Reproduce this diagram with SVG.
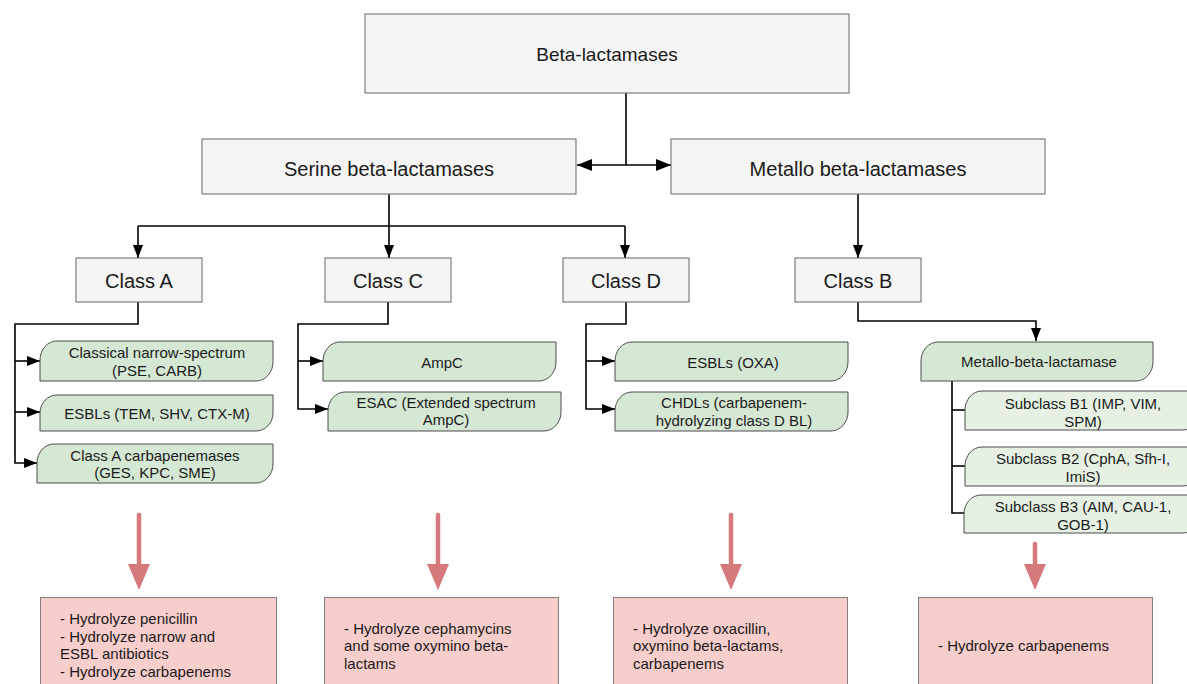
<svg xmlns="http://www.w3.org/2000/svg" width="1187" height="684" viewBox="0 0 1187 684">
<style>
  text { font-family: "Liberation Sans", Arial, Helvetica, sans-serif; fill: #1a1a1a; }
  .main { fill: #f5f5f5; stroke: #666666; stroke-width: 1; }
  .green { fill: #d5e8d4; stroke: #4d4d4d; stroke-width: 1; }
  .lgreen { fill: #e6f1e4; stroke: #4d4d4d; stroke-width: 1; }
  .pink { fill: #f8cecc; stroke: #808080; stroke-width: 1; }
  .big { font-size: 20px; text-anchor: middle; }
  .mid { font-size: 15px; text-anchor: middle; }
  .lft { font-size: 15px; text-anchor: start; }
  .conn { fill: none; stroke: #000000; stroke-width: 1.6; }
  .parr { fill: #d5797d; stroke: none; }
</style>
<defs>
  <marker id="arr" markerWidth="13" markerHeight="10" refX="13" refY="5" orient="auto" markerUnits="userSpaceOnUse">
    <path d="M0,0 L13,5 L0,10 z" fill="#000000"/>
  </marker>
  <marker id="arrB" markerWidth="15" markerHeight="12" refX="15" refY="6" orient="auto" markerUnits="userSpaceOnUse">
    <path d="M0,0 L15,6 L0,12 z" fill="#000000"/>
  </marker>
</defs>
<rect width="1187" height="684" fill="#ffffff"/>

<g id="connectors">
  <path class="conn" d="M626,93 V165"/>
  <path class="conn" d="M626,165 H577" marker-end="url(#arrB)"/>
  <path class="conn" d="M626,165 H671" marker-end="url(#arrB)"/>
  <path class="conn" d="M389,194 V226"/>
  <path class="conn" d="M138,226 H625"/>
  <path class="conn" d="M138,226 V258" marker-end="url(#arr)"/>
  <path class="conn" d="M389,226 V258" marker-end="url(#arr)"/>
  <path class="conn" d="M625,226 V258" marker-end="url(#arr)"/>
  <path class="conn" d="M858,194 V258" marker-end="url(#arr)"/>
  <path class="conn" d="M138,302 V324 H15 V463 H37" marker-end="url(#arr)"/>
  <path class="conn" d="M15,361 H40" marker-end="url(#arr)"/>
  <path class="conn" d="M15,412 H40" marker-end="url(#arr)"/>
  <path class="conn" d="M388,302 V324 H298 V409 H328" marker-end="url(#arr)"/>
  <path class="conn" d="M298,361 H323" marker-end="url(#arr)"/>
  <path class="conn" d="M626,302 V324 H586 V409 H615" marker-end="url(#arr)"/>
  <path class="conn" d="M586,361 H615" marker-end="url(#arr)"/>
  <path class="conn" d="M858,302 V321 H1036 V341" marker-end="url(#arr)"/>
  <path class="conn" d="M952,381 V513 H965"/>
  <path class="conn" d="M952,410 H966"/>
  <path class="conn" d="M952,466 H966"/>
  <path class="parr" d="M136.75,514 Q139,511 141.25,514 V564 H150 L139,590 L128,564 H136.75 Z"/>
  <path class="parr" d="M435.75,514 Q438,511 440.25,514 V564 H449 L438,590 L427,564 H435.75 Z"/>
  <path class="parr" d="M728.75,514 Q731,511 733.25,514 V564 H742 L731,590 L720,564 H728.75 Z"/>
  <path class="parr" d="M1032.75,543 Q1035,540 1037.25,543 V564 H1046 L1035,590 L1024,564 H1032.75 Z"/>
</g>

<g id="beta-lactamases">
  <rect class="main" x="365" y="14" width="484" height="79"/>
  <text class="big" x="607" y="61" style="font-size:19px">Beta-lactamases</text>
</g>
<g id="serine">
  <rect class="main" x="202" y="139" width="374" height="55"/>
  <text class="big" x="389" y="176">Serine beta-lactamases</text>
</g>
<g id="metallo">
  <rect class="main" x="671" y="139" width="374" height="55"/>
  <text class="big" x="858" y="176">Metallo beta-lactamases</text>
</g>
<g id="classA">
  <rect class="main" x="76" y="258" width="126" height="44"/>
  <text class="big" x="139" y="288">Class A</text>
</g>
<g id="classC">
  <rect class="main" x="325" y="258" width="126" height="44"/>
  <text class="big" x="388" y="288">Class C</text>
</g>
<g id="classD">
  <rect class="main" x="563" y="258" width="126" height="44"/>
  <text class="big" x="626" y="288">Class D</text>
</g>
<g id="classB">
  <rect class="main" x="795" y="258" width="126" height="44"/>
  <text class="big" x="858" y="288">Class B</text>
</g>

<g id="classical">
  <path class="green" d="M40,360 A17,19 0 0 1 57,341 H273 V362 A17,19 0 0 1 256,381 H40 Z"/>
  <text class="mid" x="157" y="358">Classical narrow-spectrum</text>
  <text class="mid" x="157" y="376">(PSE, CARB)</text>
</g>
<g id="esbls-a">
  <path class="green" d="M40,413 A17,18 0 0 1 57,395 H273 V413 A17,18 0 0 1 256,431 H40 Z"/>
  <text class="mid" x="157" y="419">ESBLs (TEM, SHV, CTX-M)</text>
</g>
<g id="carbapenemases-a">
  <path class="green" d="M37,463 A17,19 0 0 1 54,444 H273 V464 A17,19 0 0 1 256,483 H37 Z"/>
  <text class="mid" x="155" y="461">Class A carbapenemases</text>
  <text class="mid" x="155" y="478">(GES, KPC, SME)</text>
</g>
<g id="ampc">
  <path class="green" d="M323,361 A17,19 0 0 1 340,342 H556 V362 A17,19 0 0 1 539,381 H323 Z"/>
  <text class="mid" x="442" y="368">AmpC</text>
</g>
<g id="esac">
  <path class="green" d="M328,411 A17,19 0 0 1 345,392 H561 V412 A17,19 0 0 1 544,431 H328 Z"/>
  <text class="mid" x="446" y="408">ESAC (Extended spectrum</text>
  <text class="mid" x="446" y="425">AmpC)</text>
</g>
<g id="esbls-oxa">
  <path class="green" d="M615,361 A17,19 0 0 1 632,342 H848 V362 A17,19 0 0 1 831,381 H615 Z"/>
  <text class="mid" x="733" y="368">ESBLs (OXA)</text>
</g>
<g id="chdls">
  <path class="green" d="M615,411 A17,19 0 0 1 632,392 H848 V412 A17,19 0 0 1 831,431 H615 Z"/>
  <text class="mid" x="734" y="408">CHDLs (carbapenem-</text>
  <text class="mid" x="734" y="426">hydrolyzing class D BL)</text>
</g>
<g id="mbl">
  <path class="green" d="M921,361 A17,19 0 0 1 938,342 H1153 V362 A17,19 0 0 1 1136,381 H921 Z"/>
  <text class="mid" x="1039" y="367">Metallo-beta-lactamase</text>
</g>
<g id="b1">
  <path class="lgreen" d="M965,410 A17,19 0 0 1 982,391 H1200 V411 A17,19 0 0 1 1183,430 H965 Z"/>
  <text class="mid" x="1083" y="409">Subclass B1 (IMP, VIM,</text>
  <text class="mid" x="1083" y="427">SPM)</text>
</g>
<g id="b2">
  <path class="lgreen" d="M965,466 A17,19 0 0 1 982,447 H1200 V467 A17,19 0 0 1 1183,486 H965 Z"/>
  <text class="mid" x="1083" y="464">Subclass B2 (CphA, Sfh-I,</text>
  <text class="mid" x="1083" y="482">ImiS)</text>
</g>
<g id="b3">
  <path class="lgreen" d="M964,514 A17,19 0 0 1 981,495 H1200 V514 A17,19 0 0 1 1183,533 H964 Z"/>
  <text class="mid" x="1083" y="512">Subclass B3 (AIM, CAU-1,</text>
  <text class="mid" x="1083" y="530">GOB-1)</text>
</g>

<g id="effect-a">
  <rect class="pink" x="40.5" y="597.5" width="236" height="100"/>
  <text class="lft" x="60" y="624">- Hydrolyze penicillin</text>
  <text class="lft" x="60" y="641.6">- Hydrolyze narrow and</text>
  <text class="lft" x="60" y="659.2">ESBL antibiotics</text>
  <text class="lft" x="60" y="676.8">- Hydrolyze carbapenems</text>
</g>
<g id="effect-c">
  <rect class="pink" x="324.5" y="597.5" width="234" height="100"/>
  <text class="lft" x="344" y="633.5">- Hydrolyze cephamycins</text>
  <text class="lft" x="344" y="651">and some oxymino beta-</text>
  <text class="lft" x="344" y="668.5">lactams</text>
</g>
<g id="effect-d">
  <rect class="pink" x="613.5" y="597.5" width="234" height="100"/>
  <text class="lft" x="633" y="633.5">- Hydrolyze oxacillin,</text>
  <text class="lft" x="633" y="651">oxymino beta-lactams,</text>
  <text class="lft" x="633" y="668.5">carbapenems</text>
</g>
<g id="effect-b">
  <rect class="pink" x="918.5" y="597.5" width="234" height="100"/>
  <text class="lft" x="938" y="651">- Hydrolyze carbapenems</text>
</g>
</svg>
